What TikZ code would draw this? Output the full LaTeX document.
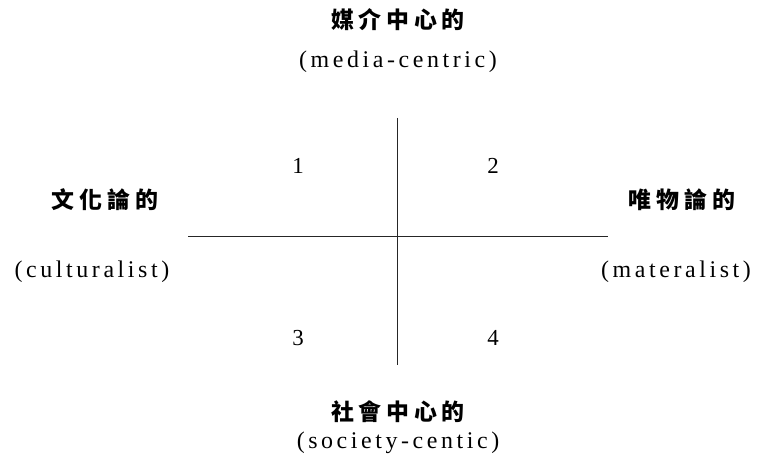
\documentclass[tikz,border=0pt]{standalone}
\usepackage{fontspec}
\setmainfont{Liberation Serif}
\newfontfamily\latsp{Liberation Serif}[LetterSpace=15]
\newfontfamily\cjk{Noto Sans CJK TC}[LetterSpace=21]
\begin{document}
\begin{tikzpicture}[x=1bp,y=-1bp,
  cjkt/.style={inner sep=0pt,font=\cjk\bfseries\fontsize{23}{26}\selectfont},
  lat/.style={inner sep=0pt,font=\latsp\fontsize{24}{28}\selectfont},
  num/.style={inner sep=0pt,font=\fontsize{23}{27}\selectfont},
  axis/.style={line width=0.9bp,black!85}]
\useasboundingbox (0,0) rectangle (772,462);
\node[cjkt] (top) at (398,20) {媒介中心的};
\node[lat] (topen) at (398,62) {(media-centric)};
\node[cjkt] (left) at (105,200) {文化論的};
\node[lat] (leften) at (92,272) {(culturalist)};
\node[cjkt] (right) at (682,200) {唯物論的};
\node[lat] (righten) at (676,272) {(materalist)};
\node[cjkt] (bot) at (398,412) {社會中心的};
\node[lat] (boten) at (398,443) {(society-centic)};
\node[num] (q1) at (298,166) {1};
\node[num] (q2) at (493,166) {2};
\node[num] (q3) at (298,338) {3};
\node[num] (q4) at (493,338) {4};
\coordinate (vt) at (397,118);
\coordinate (vb) at (397,365);
\coordinate (hl) at (188,236);
\coordinate (hr) at (608,236);
\draw[axis] (vt) -- (vb);
\draw[axis] (hl) -- (hr);
\end{tikzpicture}
\end{document}
